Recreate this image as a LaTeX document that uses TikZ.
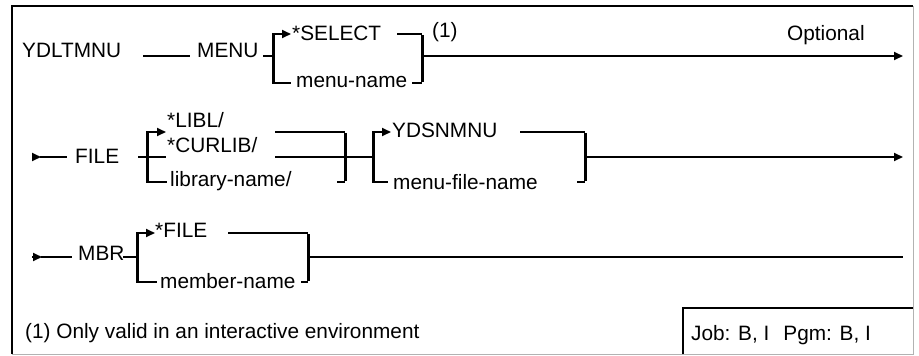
\documentclass[tikz,border=0pt]{standalone}
\usepackage{fontspec}
\setmainfont{Liberation Sans}
\usetikzlibrary{arrows.meta}
\begin{document}
\begin{tikzpicture}[x=1pt,y=-1pt,
  lbl/.style={inner sep=0pt, anchor=base west, font=\fontsize{20.8}{24}\selectfont},
  rail/.style={line width=2pt},
  brk/.style={line width=3pt},
  tip/.style={-{Triangle[length=9pt,width=8pt]}},
  frameline/.style={line width=2.2pt},
  faintline/.style={line width=1pt, black!30},
]
\useasboundingbox (0,0) rectangle (919,356);
% outer frame
\coordinate (fbl) at (12,354); \coordinate (ftl) at (12,6);
\coordinate (ftr) at (913,6);  \coordinate (fbr) at (913,354);
\draw[faintline] (ftr) -- (fbr) -- (fbl);
\draw[frameline] (fbl) -- (ftl) -- (ftr);

% ---------------- row 1
\node[lbl] (ydl) at (22,57) {YDLTMNU};
\node[lbl] (menu) at (197,57) {MENU};
\node[lbl] (sel) at (292,40) {*SELECT};
\node[lbl] (mname) at (296,87) {menu-name};
\node[lbl] (fn1) at (432,37) {(1)};
\node[lbl] (opt) at (787,40) {Optional};
\coordinate (u1) at (143,56); \coordinate (u2) at (190,56);
\coordinate (m1) at (263,56); \coordinate (b1m) at (273,56);
\coordinate (b1t) at (273,33); \coordinate (b1b) at (273,84);
\coordinate (s1) at (272,34); \coordinate (s2) at (291,34);
\coordinate (n1) at (272,83); \coordinate (n2) at (291,83);
\coordinate (s3) at (397,34); \coordinate (c1t) at (422,34);
\coordinate (n3) at (412,83); \coordinate (c1b) at (422,83);
\coordinate (c1m) at (422,56); \coordinate (e1) at (903,56);
\draw[rail] (u1) -- (u2);
\draw[rail] (m1) -- (b1m);
\draw[brk] (b1t) -- (b1b);
\draw[rail,tip] (s1) -- (s2);
\draw[rail] (n1) -- (n2);
\draw[rail] (s3) -- (c1t);
\draw[rail] (n3) -- (c1b);
\draw[brk] ([yshift=-1pt]c1t) -- ([yshift=1pt]c1b);
\draw[rail,tip] (c1m) -- (e1);

% ---------------- row 2
\coordinate (a2s) at (32,157); \coordinate (a2t) at (41,157); \coordinate (a2e) at (67,157);
\node[lbl] (file) at (75,163) {FILE};
\node[lbl] (libl) at (167,127) {*LIBL/};
\node[lbl] (curlib) at (167,152) {*CURLIB/};
\node[lbl] (libn) at (170,186) {library-name/};
\node[lbl] (ydsn) at (392,137) {YDSNMNU};
\node[lbl] (mfn) at (393,189) {menu-file-name};
\coordinate (f1) at (138,157); \coordinate (f2) at (166,157);
\coordinate (b2t) at (147,131); \coordinate (b2b) at (147,183);
\coordinate (l1) at (146,132); \coordinate (l2) at (166,132);
\coordinate (q1) at (146,182); \coordinate (q2) at (167,182);
\coordinate (l3) at (275,132); \coordinate (c2t) at (345,132);
\coordinate (k3) at (275,157); \coordinate (b3m) at (373,157);
\coordinate (q3) at (337,182); \coordinate (c2b) at (345,182);
\coordinate (b3t) at (373,131); \coordinate (b3b) at (373,183);
\coordinate (y1) at (372,132); \coordinate (y2) at (391,132);
\coordinate (z1) at (372,182); \coordinate (z2) at (388,182);
\coordinate (y3) at (520,132); \coordinate (c3t) at (585,132);
\coordinate (z3) at (577,182); \coordinate (c3b) at (585,182);
\coordinate (c3m) at (585,157); \coordinate (e2) at (903,157);
\draw[rail,tip] (a2s) -- (a2t);
\draw[rail] ([xshift=-1pt]a2t) -- (a2e);
\draw[rail] (f1) -- (f2);
\draw[brk] (b2t) -- (b2b);
\draw[rail,tip] (l1) -- (l2);
\draw[rail] (q1) -- (q2);
\draw[rail] (l3) -- (c2t);
\draw[rail] (k3) -- (b3m);
\draw[rail] (q3) -- (c2b);
\draw[brk] ([yshift=-1pt]c2t) -- ([yshift=1pt]c2b);
\draw[brk] (b3t) -- (b3b);
\draw[rail,tip] (y1) -- (y2);
\draw[rail] (z1) -- (z2);
\draw[rail] (y3) -- (c3t);
\draw[rail] (z3) -- (c3b);
\draw[brk] ([yshift=-1pt]c3t) -- ([yshift=1pt]c3b);
\draw[rail,tip] (c3m) -- (e2);

% ---------------- row 3
\coordinate (a3s) at (32,257); \coordinate (a3t) at (42,257); \coordinate (a3e) at (72,257);
\node[lbl] (mbr) at (78,260) {MBR};
\node[lbl] (sfile) at (155,237) {*FILE};
\node[lbl] (memn) at (160,288) {member-name};
\coordinate (t1) at (123,257); \coordinate (b4m) at (137,257);
\coordinate (b4t) at (137,232); \coordinate (b4b) at (137,283);
\coordinate (g1) at (136,233); \coordinate (g2) at (155,233);
\coordinate (h1) at (136,282); \coordinate (h2) at (157,282);
\coordinate (g3) at (228,233); \coordinate (c4t) at (308,233);
\coordinate (h3) at (301,282); \coordinate (c4b) at (308,282);
\coordinate (c4m) at (308,257); \coordinate (e3) at (903,257);
\draw[rail,tip] (a3s) -- (a3t);
\draw[rail] ([xshift=-1pt]a3t) -- (a3e);
\draw[rail] (t1) -- (b4m);
\draw[brk] (b4t) -- (b4b);
\draw[rail,tip] (g1) -- (g2);
\draw[rail] (h1) -- (h2);
\draw[rail] (g3) -- (c4t);
\draw[rail] (h3) -- (c4b);
\draw[brk] ([yshift=-1pt]c4t) -- ([yshift=1pt]c4b);
\draw[line width=2.8pt] (c4m) -- (e3);

% ---------------- footnote and job box
\node[lbl] (foot) at (25,338) {(1) Only valid in an interactive environment};
\coordinate (jb) at (683,354); \coordinate (jt) at (683,308); \coordinate (jr) at (913,308);
\draw[line width=1.8pt] (jb) -- (jt) -- (jr);
\node[lbl] (job) at (691,340) {Job: B, I\hspace{14pt}Pgm: B, I};
\end{tikzpicture}
\end{document}
